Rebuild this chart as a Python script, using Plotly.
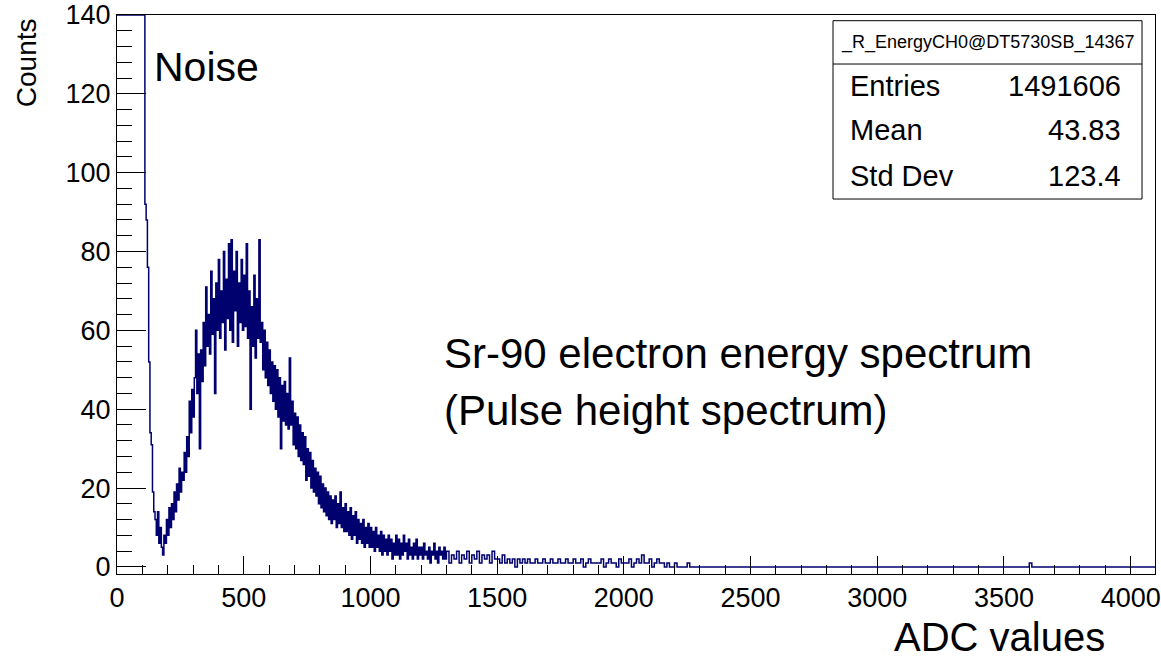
import numpy as np
import plotly.graph_objects as go

# --- Histogram data ---
# fine part: 5 ADC wide bins, 0 .. 1295
FINE_WIDTH = 5
COUNTS_FINE = [
    2600, 2400, 2100, 1800, 1500, 1300, 1100, 950, 820, 720,   # 0 - 45 (noise, off scale)
    630, 560, 490, 430, 380, 330, 290, 260, 230, 200,          # 50 - 95
    170, 150, 92, 88, 76, 52, 34, 31, 19, 14,                  # 100 - 145
    12, 8, 14, 6, 10, 5, 3, 8, 6, 12,                          # 150 - 195
    8, 15, 10, 16, 12, 19, 14, 21, 17, 25,                     # 200 - 245
    19, 24, 22, 29, 24, 33, 28, 42, 34, 45,                    # 250 - 295
    38, 48, 60, 44, 54, 30, 55, 47, 62, 51,                    # 300 - 345
    71, 56, 64, 54, 75, 59, 68, 44, 72, 60,                    # 350 - 395
    78, 58, 70, 62, 80, 55, 73, 63, 82, 60,                    # 400 - 445
    83, 57, 75, 65, 80, 56, 72, 62, 78, 60,                    # 450 - 495
    74, 61, 82, 58, 70, 40, 66, 56, 74, 53,                    # 500 - 545
    68, 58, 83, 57, 62, 50, 60, 48, 57, 46,                    # 550 - 595
    55, 44, 52, 42, 51, 40, 50, 38, 48, 30,                    # 600 - 645
    46, 37, 47, 36, 44, 35, 53, 36, 42, 31,                    # 650 - 695
    39, 30, 38, 28, 36, 27, 34, 26, 33, 22,                    # 700 - 745
    30, 23, 29, 20, 27, 19, 25, 18, 24, 16,                    # 750 - 795
    23, 15, 21, 14, 20, 13, 19, 12, 18, 11,                    # 800 - 845
    17, 12, 18, 10, 16, 11, 19, 10, 15, 9,                     # 850 - 895
    16, 9, 14, 8, 15, 7, 13, 8, 14, 6,                         # 900 - 945
    12, 7, 11, 6, 12, 5, 10, 6, 11, 5,                         # 950 - 995
    10, 5, 9, 4, 10, 5, 8, 4, 9, 3,                            # 1000 - 1045
    8, 4, 7, 3, 8, 4, 7, 2, 6, 3,                              # 1050 - 1095
    8, 3, 7, 2, 6, 3, 8, 4, 6, 2,                              # 1100 - 1145
    7, 3, 5, 2, 6, 3, 7, 2, 5, 3,                              # 1150 - 1195
    5, 2, 6, 3, 4, 2, 5, 1, 4, 3,                              # 1200 - 1245
    6, 2, 4, 1, 5, 3, 4, 2, 5, 2,                              # 1250 - 1295
]
# coarse part: 10 ADC wide bins, 1300 .. 2290
COARSE_START = 1300
COARSE_WIDTH = 10
COUNTS_COARSE = [
    4, 1, 3, 2, 4, 1, 3, 2, 4, 1,                              # 1300 - 1390
    3, 2, 4, 1, 3, 2, 3, 1, 4, 2,                              # 1400 - 1490
    2, 1, 3, 1, 2, 1, 2, 0, 2, 1,                              # 1500 - 1590
    2, 1, 2, 1, 1, 2, 1, 1, 2, 1,                              # 1600 - 1690
    1, 2, 1, 1, 2, 1, 1, 2, 1, 1,                              # 1700 - 1790
    2, 1, 1, 2, 0, 1, 2, 1, 1, 1,                              # 1800 - 1890
    1, 2, 0, 1, 2, 1, 1, 0, 2, 1,                              # 1900 - 1990
    1, 1, 2, 0, 1, 2, 1, 3, 1, 1,                              # 2000 - 2090
    2, 0, 1, 2, 1, 1, 0, 1, 0, 0,                              # 2100 - 2190
    1, 0, 0, 0, 0, 1, 0, 0, 0, 0,                              # 2200 - 2290
]
# sparse upper part of the spectrum
TAIL_EDGES = [2300, 3600, 3610]
TAIL_COUNTS = [0, 1, 0]
X_MAX = 4096
Y_MAX = 140

STATS_NAME = "_R_EnergyCH0@DT5730SB_14367"
STATS_LABELS = ["Entries", "Mean", "Std Dev"]
STATS_VALUES = ["1491606", "43.83", "123.4"]

FONT = "Liberation Sans, Arial, Helvetica, sans-serif"
LINE_COLOR = "#00006e"

# --- Build step outline like a ROOT histogram ---
edges = (list(np.arange(len(COUNTS_FINE)) * FINE_WIDTH)
         + list(COARSE_START + np.arange(len(COUNTS_COARSE)) * COARSE_WIDTH)
         + TAIL_EDGES + [X_MAX])
values = COUNTS_FINE + COUNTS_COARSE + TAIL_COUNTS + [0]
values = list(np.minimum(values, Y_MAX))  # ROOT draws off-scale bins on the frame

fig = go.Figure()
fig.add_trace(go.Scatter(
    x=edges, y=values, mode="lines",
    line=dict(shape="hv", color=LINE_COLOR, width=1.5),
    hoverinfo="skip", showlegend=False,
))

fig.update_layout(
    width=1161, height=660,
    margin=dict(l=117, r=6, t=15, b=86),
    paper_bgcolor="white", plot_bgcolor="white",
    font=dict(family=FONT, color="black"),
    showlegend=False,
)

fig.update_xaxes(
    range=[0, X_MAX], showgrid=False, zeroline=False, automargin=False,
    showline=True, linecolor="black", linewidth=1, mirror=True,
    ticks="inside", ticklen=18, tickcolor="black", tickwidth=1,
    tick0=0, dtick=500, tickfont=dict(size=27), ticklabeloverflow="allow",
    minor=dict(ticks="inside", ticklen=9, dtick=100, tickcolor="black", showgrid=False),
)
fig.update_yaxes(
    range=[-1.8, Y_MAX], showgrid=False, zeroline=False, automargin=False,
    showline=True, linecolor="black", linewidth=1, mirror=True,
    ticks="inside", ticklen=29, tickcolor="black", tickwidth=1,
    tick0=0, dtick=20, tickfont=dict(size=27), ticklabeloverflow="allow",
    minor=dict(ticks="inside", ticklen=15, dtick=4, tickcolor="black", showgrid=False),
)

# --- Axis titles and labels ---
ann = [
    dict(text="Counts", x=-0.087, y=0.915, xref="paper", yref="paper",
         textangle=-90, showarrow=False, font=dict(size=28),
         xanchor="center", yanchor="middle"),
    dict(text="ADC values", x=0.954, y=-0.113, xref="paper", yref="paper",
         showarrow=False, font=dict(size=40), xanchor="right", yanchor="middle"),
    dict(text="Noise", x=0.034, y=0.907, xref="paper", yref="paper",
         showarrow=False, font=dict(size=41), xanchor="left", yanchor="middle"),
    dict(text="Sr-90 electron energy spectrum", x=0.313, y=0.395,
         xref="paper", yref="paper", showarrow=False, font=dict(size=42),
         xanchor="left", yanchor="middle"),
    dict(text="(Pulse height spectrum)", x=0.313, y=0.293,
         xref="paper", yref="paper", showarrow=False, font=dict(size=42),
         xanchor="left", yanchor="middle"),
]

# --- Stats box ---
bx0, bx1, by0, by1, bsep = 0.6898, 0.9875, 0.6708, 0.9898, 0.9123
fig.add_shape(type="rect", xref="paper", yref="paper", x0=bx0, x1=bx1, y0=by0, y1=by1,
              line=dict(color="black", width=1), fillcolor="white", layer="above")
fig.add_shape(type="line", xref="paper", yref="paper", x0=bx0, x1=bx1, y0=bsep, y1=bsep,
              line=dict(color="black", width=1), layer="above")
ann.append(dict(text=STATS_NAME, x=(bx0 + bx1) / 2, y=0.95, xref="paper", yref="paper",
                showarrow=False, font=dict(size=18), xanchor="center", yanchor="middle"))
row_y = [0.873, 0.7943, 0.712]
for label, val, ry in zip(STATS_LABELS, STATS_VALUES, row_y):
    ann.append(dict(text=label, x=0.7042, y=ry, xref="paper", yref="paper",
                    showarrow=False, font=dict(size=29), xanchor="left", yanchor="middle"))
    ann.append(dict(text=val, x=0.9692, y=ry, xref="paper", yref="paper",
                    showarrow=False, font=dict(size=29), xanchor="right", yanchor="middle"))

fig.update_layout(annotations=ann)

# drop the default 8px page margin so the figure fills the window exactly
fig.write_html("out.html", config={"displayModeBar": False},
               post_script="document.body.style.margin = '0';")
